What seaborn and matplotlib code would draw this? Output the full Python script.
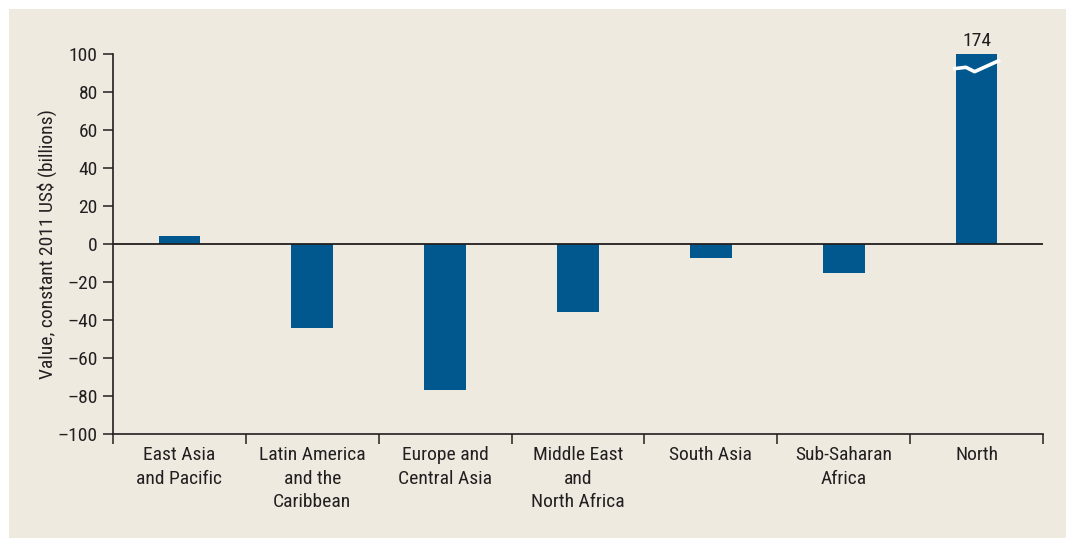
import numpy as np
import pandas as pd
import matplotlib
matplotlib.use("Agg")
import matplotlib.pyplot as plt
import seaborn as sns
from matplotlib.patches import Rectangle
from matplotlib.ticker import FixedLocator
from matplotlib import font_manager

# Regional values, constant 2011 US$ (billions)
regions = ["East Asia\nand Pacific", "Latin America\nand the\nCaribbean",
           "Europe and\nCentral Asia", "Middle East\nand\nNorth Africa",
           "South Asia", "Sub-Saharan\nAfrica", "North"]
values = [4.2, -44, -77, -36, -7.5, -15.5, 174]
y_ticks = [100, 80, 60, 40, 20, 0, -20, -40, -60, -80, -100]

BAR = "#00588f"
PANEL = "#eeeae0"
INK = "#231f20"

sns.set_theme(style="white")
names = {f.name for f in font_manager.fontManager.ttflist}
narrow = [n for n in ["Liberation Sans Narrow", "Roboto Condensed", "Open Sans Condensed"] if n in names]
plt.rcParams["font.family"] = narrow + ["DejaVu Sans"]
plt.rcParams["font.stretch"] = "condensed"

FS = 14

fig = plt.figure(figsize=(10.66, 5.38), dpi=100, facecolor="white")
fig.patches.append(Rectangle((9 / 1066, 0), 1 - 9 / 1066, 1 - 9 / 538,
                             transform=fig.transFigure, facecolor=PANEL,
                             edgecolor="none", zorder=-10))

ax = fig.add_axes([113 / 1066, 1 - 434 / 538, (1043 - 113) / 1066, (434 - 54) / 538])
ax.set_zorder(1)
ax.set_facecolor("none")

df = pd.DataFrame({"region": regions, "value": values})
sns.barplot(data=df, x="region", y="value", color=BAR, saturation=1,
            width=0.315, linewidth=0, edgecolor="none", ax=ax, zorder=2)

ax.set_ylim(-100, 100)
ax.set_xlim(-0.5, len(regions) - 0.5)
ax.set_yticks(y_ticks)
ax.set_yticklabels([f"{t}".replace("-", "\u2013") for t in y_ticks])

# zero baseline
ax.axhline(0, color=INK, lw=1.3, zorder=3)

# axis break drawn across the truncated bar
n = len(regions) - 1
half = 0.315 / 2
brk_x = [n - half - 0.02, n - 0.08, n - 0.015, n + half + 0.02]
brk_y = [92.2, 93.0, 90.7, 96.8]
ax.plot(brk_x, brk_y, color="white", lw=2.6, solid_capstyle="butt", zorder=4, clip_on=True)
ax.text(n, 102, f"{values[-1]:.0f}", ha="center", va="bottom", fontsize=FS, color=INK)

for side in ["top", "right"]:
    ax.spines[side].set_visible(False)
for side in ["left", "bottom"]:
    ax.spines[side].set_color(INK)
    ax.spines[side].set_linewidth(1.2)

ax.tick_params(axis="y", which="major", direction="out", length=7, width=1.1,
               color=INK, left=True, labelsize=FS, labelcolor=INK, pad=4)
ax.tick_params(axis="x", which="major", length=0, labelsize=FS, labelcolor=INK, pad=9)
ax.xaxis.set_minor_locator(FixedLocator(np.arange(-0.5, len(regions), 1.0)))
ax.tick_params(axis="x", which="minor", direction="out", length=7, width=1.1,
               color=INK, bottom=True)
for lab in ax.get_xticklabels():
    lab.set_multialignment("center")
    lab.set_linespacing(1.38)

ax.set_xlabel("")
ax.set_ylabel("Value, constant 2011 US$ (billions)", fontsize=FS, color=INK)
ax.yaxis.set_label_coords(-0.06, 0.5)

fig.savefig("out.png", dpi=100, facecolor="white")
